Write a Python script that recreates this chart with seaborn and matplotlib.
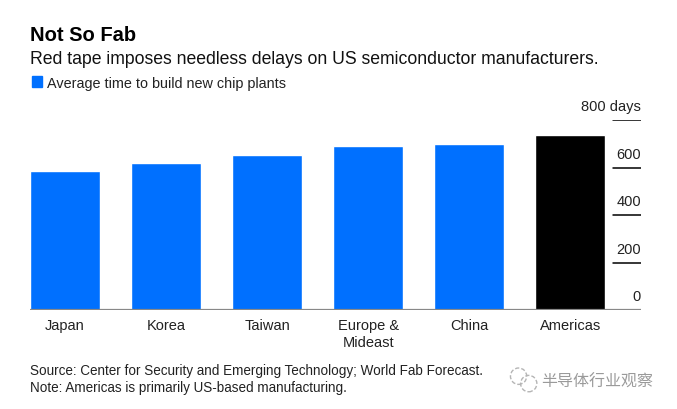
import matplotlib.pyplot as plt
import matplotlib.transforms as mtransforms
from matplotlib.patches import Ellipse, Rectangle
import pandas as pd
import seaborn as sns

regions = ["Japan", "Korea", "Taiwan", "Europe &\nMideast", "China", "Americas"]
days = [586, 620, 654, 692, 700, 738]
bar_colors = ["#0070ff", "#0070ff", "#0070ff", "#0070ff", "#0070ff", "#000000"]
y_ticks = [0, 200, 400, 600, 800]
y_tick_labels = ["0", "200", "400", "600", "800 days"]

df = pd.DataFrame({"region": regions, "days": days})

sns.set_style("white")
plt.rcParams["font.family"] = ["Liberation Sans", "DejaVu Sans"]

fig = plt.figure(figsize=(6.77, 4.10), dpi=100)
ax = fig.add_axes([0.0443, 0.2415, 0.9025, 0.4626])

sns.barplot(data=df, x="region", y="days", hue="region", palette=bar_colors,
            width=0.69, saturation=1, legend=False, ax=ax)

ax.set_ylim(0, 800)
ax.set_xlim(-0.345, 5.70)
sns.despine(ax=ax, left=True, right=True, top=True, bottom=True)
ax.set_xlabel("")
ax.set_ylabel("")
ax.set_yticks([])
ax.tick_params(axis="x", length=0, pad=6, labelsize=10.5, labelcolor="#222222")
for lbl in ax.get_xticklabels():
    lbl.set_linespacing(1.25)

# value scale drawn inside the plot on the right, labels sit above short rules
trans = mtransforms.blended_transform_factory(ax.transAxes, ax.transData)
label_shift = mtransforms.offset_copy(trans, fig=fig, x=0, y=7, units="dots")
for val, txt in zip(y_ticks, y_tick_labels):
    if val > 0:
        ax.axhline(val, xmin=0.954, xmax=1.0, color="black", lw=1.1, zorder=3)
    ax.text(1.0, val, txt, transform=label_shift, ha="right", va="bottom",
            fontsize=10.5, color="#222222", clip_on=False)
ax.axhline(0, color="#888888", lw=1.6, zorder=4)

# header
fig.text(0.0443, 0.900, "Not So Fab", fontsize=14.5, fontweight="bold", color="black")
fig.text(0.0443, 0.843, "Red tape imposes needless delays on US semiconductor manufacturers.",
         fontsize=12.7, color="#111111")
fig.patches.append(Rectangle((0.0473, 0.785), 0.0148, 0.026, transform=fig.transFigure,
                             color="#0070ff"))
fig.text(0.0694, 0.786, "Average time to build new chip plants", fontsize=10.4, color="#222222")

# footer
fig.text(0.0443, 0.085, "Source: Center for Security and Emerging Technology; World Fab Forecast.",
         fontsize=9.75, color="#222222")
fig.text(0.0443, 0.045, "Note: Americas is primarily US-based manufacturing.",
         fontsize=9.75, color="#222222")

# watermark
for (cx, cy, w, h) in [(0.766, 0.080, 0.024, 0.040), (0.781, 0.062, 0.024, 0.040)]:
    fig.patches.append(Ellipse((cx, cy), w, h, transform=fig.transFigure,
                               fill=False, ec="#b5b5b5", lw=1.0, ls=(0, (3, 1.5))))
fig.text(0.80, 0.058, "半导体行业观察", fontsize=11.5, color="#9a9a9a",
         family=["Noto Sans CJK SC", "DejaVu Sans"])

fig.savefig("out.png", dpi=100)
